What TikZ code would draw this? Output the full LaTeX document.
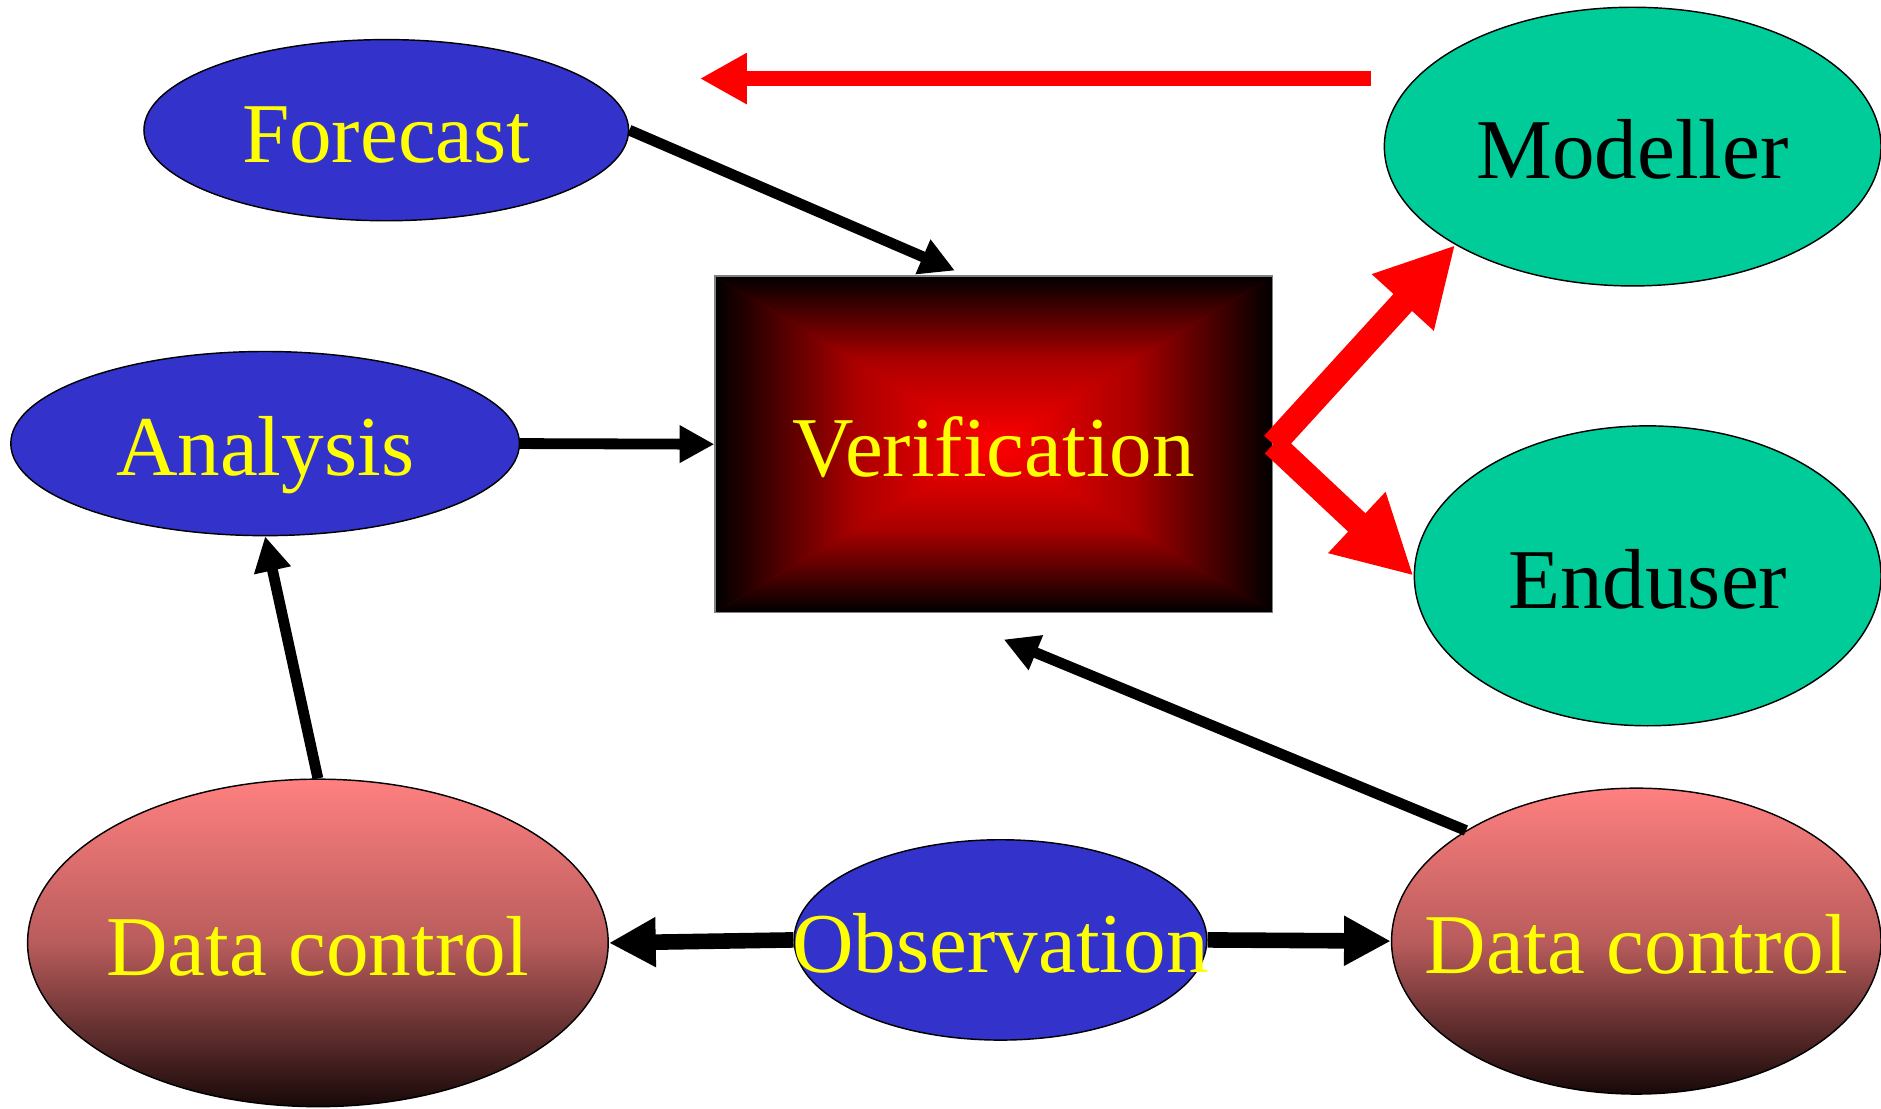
\documentclass[tikz,border=0pt]{standalone}
\usepackage{fontspec}
\setmainfont{Liberation Serif}[Ligatures=NoCommon]
\usetikzlibrary{arrows.meta,shapes.geometric,calc}

\definecolor{blobblue}{RGB}{51,51,204}
\definecolor{blobgreen}{RGB}{0,204,153}
\definecolor{txtyellow}{RGB}{255,255,0}
\definecolor{dcpink}{RGB}{255,128,128}
\definecolor{dcmid}{RGB}{185,92,92}
\definecolor{dcdark}{RGB}{24,8,8}
\definecolor{boxedge}{RGB}{128,128,128}
\definecolor{boxbase}{RGB}{150,0,0}
\definecolor{boxmid}{RGB}{170,0,0}

\begin{document}
\begin{tikzpicture}[x=1pt,y=-1pt,
  blob/.style={ellipse, draw=black, line width=1.2pt, inner sep=0pt},
  bluebl/.style={blob, fill=blobblue},
  greenbl/.style={blob, fill=blobgreen},
  dcbl/.style={blob, top color=dcpink, bottom color=dcdark, middle color=dcmid},
  lbl/.style={font=\fontsize{71}{80}\selectfont, text=txtyellow, inner sep=0pt,
              text height=54pt, text depth=0pt},
  darklbl/.style={lbl, text=black},
  thinarr/.style={draw=black, line width=9pt, -{Triangle[length=29pt,width=29.5pt]}},
  thickarr/.style={draw=black, line width=13pt, -{Triangle[length=39pt,width=39pt]}},
  redarr/.style={draw=red, line width=13pt, -{Triangle[length=39pt,width=40pt]}},
  redfat/.style={draw=red, line width=21pt, -{Triangle[length=65pt,width=65pt]}},
]
\useasboundingbox (0,0) rectangle (1568,924);

% ellipses
\node[bluebl, minimum width=404pt, minimum height=151pt] (forecast) at (322,108.5) {};
\node[bluebl, minimum width=424pt, minimum height=153.5pt] (analysis) at (221,369.75) {};
\node[bluebl, minimum width=344pt, minimum height=167pt] (obs) at (834,783.5) {};
\node[greenbl, minimum width=414pt, minimum height=232.3pt] (modeller) at (1361,122.2) {};
\node[greenbl, minimum width=389pt, minimum height=250pt] (enduser) at (1373.5,480) {};
\node[dcbl, minimum width=484pt, minimum height=273pt] (dcl) at (265,786) {};
\node[dcbl, minimum width=408pt, minimum height=255pt] (dcr) at (1364,784.5) {};

% central box with a rectangular red-to-black gradient
\node[rectangle, minimum width=465pt, minimum height=280.5pt, inner sep=0pt,
      draw=boxedge, line width=1pt,
      path picture={
        \fill[boxbase] (path picture bounding box.north west) rectangle (path picture bounding box.south east);
        \shade[top color=black, bottom color=red, middle color=boxmid]
          (path picture bounding box.north west) -- (path picture bounding box.north east)
          -- (path picture bounding box.center) -- cycle;
        \shade[top color=red, bottom color=black, middle color=boxmid]
          (path picture bounding box.south west) -- (path picture bounding box.south east)
          -- (path picture bounding box.center) -- cycle;
        \shade[left color=black, right color=red, middle color=boxmid]
          (path picture bounding box.north west) -- (path picture bounding box.south west)
          -- (path picture bounding box.center) -- cycle;
        \shade[left color=red, right color=black, middle color=boxmid]
          (path picture bounding box.north east) -- (path picture bounding box.south east)
          -- (path picture bounding box.center) -- cycle;
      }] (verif) at (828.5,370.3) {};

% connectors
\draw[thinarr] (forecast.east) -- ($(verif.north)+(-32.5,-4)$);
\draw[thinarr] (analysis.east) -- (verif.west);
\draw[thinarr] (dcl.north) -- (analysis.south);
\draw[thinarr] (dcr.147.6) -- ($(verif.south)+(8.2,22)$);
\draw[thickarr] (obs.west) -- (dcl.east);
\draw[thickarr] (obs.east) -- (dcr.west);

\coordinate (rtail) at (1143,65.5);
\coordinate (rhead) at (583.5,65.5);
\draw[redarr] (rtail) -- (rhead);

\draw[redfat] (verif.east) -- (modeller.209.6);
\draw[redfat] (verif.east) -- (enduser.west);

% labels
\node[lbl] (forecast-t) at (forecast.center) {Forecast};
\node[lbl] (analysis-t) at (analysis.center) {Analysis};
\node[lbl] (verif-t) at (verif.center) {Verification};
\node[darklbl] (modeller-t) at (modeller.center) {Modeller};
\node[darklbl] (enduser-t) at (enduser.center) {Enduser};
\node[lbl] (dcl-t) at (dcl.center) {Data control};
\node[lbl] (obs-t) at (obs.center) {Observation};
\node[lbl] (dcr-t) at (dcr.center) {Data control};
\end{tikzpicture}
\end{document}
